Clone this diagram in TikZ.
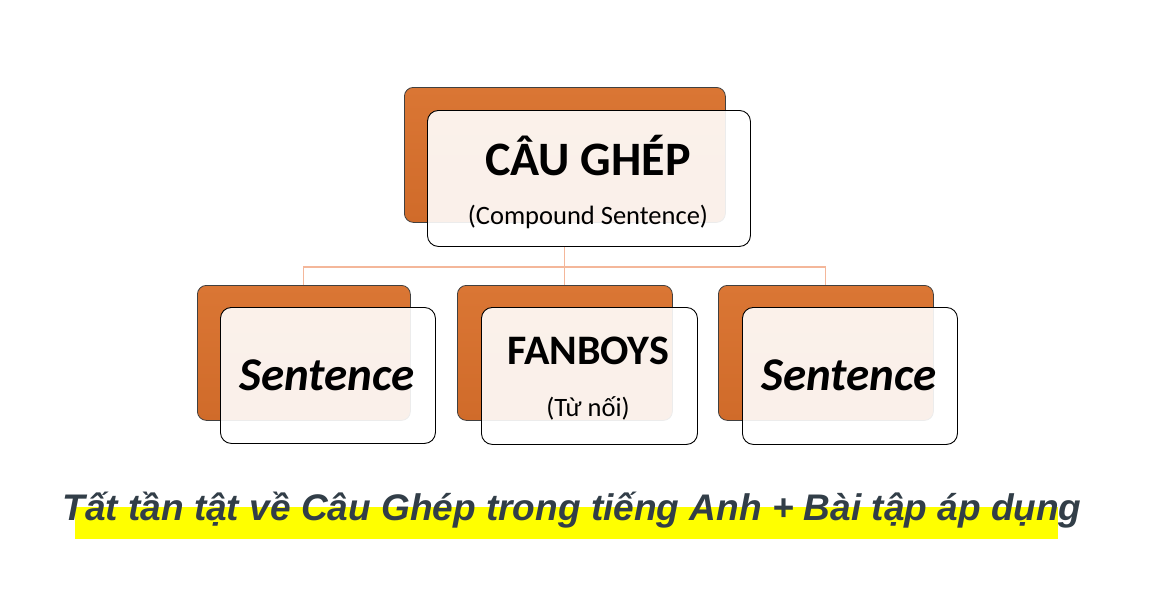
\documentclass[tikz,border=0pt]{standalone}
\usepackage{fontspec}
\setmainfont{Carlito}
\newfontfamily\titlefont{Liberation Sans}
\begin{document}
\begin{tikzpicture}[x=1pt,y=-1pt,
  back/.style={draw=black!75, line width=0.8pt, rounded corners=9pt,
    top color=orange1, bottom color=orange2, inner sep=0pt, anchor=north west},
  front/.style={draw=black, line width=0.9pt, rounded corners=11pt,
    fill=white, fill opacity=0.9, text opacity=1, inner sep=0pt, anchor=north west},
  conn/.style={draw=conncol, line width=1.1pt},
  lbl/.style={text=black, inner sep=0pt}
]
\definecolor{orange1}{HTML}{DA7634}
\definecolor{orange2}{HTML}{D06B2A}
\definecolor{conncol}{HTML}{F4B79A}
\definecolor{titlecol}{HTML}{323E48}
\definecolor{hl}{HTML}{FFFF00}
\useasboundingbox (0,0) rectangle (1152,605);
\coordinate (hy) at (0,267);
% back boxes
\node[back, minimum width=321pt, minimum height=135pt] (topo) at (404,87) {};
\node[back, minimum width=213pt, minimum height=135pt] (lefto) at (197,285) {};
\node[back, minimum width=215pt, minimum height=135pt] (mido) at (457,285) {};
\node[back, minimum width=215pt, minimum height=135pt] (righto) at (718,285) {};
% front boxes
\node[front, minimum width=323pt, minimum height=136pt] (topf) at (427,110) {};
\node[front, minimum width=215pt, minimum height=136pt] (leftf) at (220,307) {};
\node[front, minimum width=216pt, minimum height=137pt] (midf) at (481,307) {};
\node[front, minimum width=215pt, minimum height=137pt] (rightf) at (742,307) {};
% connectors
\coordinate (cstart) at (topf.south -| topo.south);
\draw[conn] (cstart) -- (mido.north -| cstart);
\draw[conn] (lefto.north) -- (lefto.north |- hy) -- (righto.north |- hy) -- (righto.north);
% labels
\node[lbl, font=\fontsize{48}{48}\selectfont\bfseries] (t1) at (588,156) {CÂU GHÉP};
\node[lbl, font=\fontsize{26.5}{26.5}\selectfont] (t2) at (588,217) {(Compound Sentence)};
\node[lbl, font=\fontsize{47}{47}\selectfont\bfseries\itshape] (t3) at (327,375) {Sentence};
\node[lbl, font=\fontsize{42}{42}\selectfont\bfseries] (t4) at (588,351) {FANBOYS};
\node[lbl, font=\fontsize{26.5}{26.5}\selectfont] (t5) at (588,408) {(Từ nối)};
\node[lbl, font=\fontsize{47}{47}\selectfont\bfseries\itshape] (t6) at (849,375) {Sentence};
% title
\fill[hl] (75,507) rectangle (1058,539);
\node[inner sep=0pt, anchor=base, text=titlecol, font=\titlefont\bfseries\itshape] (title) at (572,520) {\resizebox{1019pt}{!}{Tất tần tật về Câu Ghép trong tiếng Anh + Bài tập áp dụng}};
\end{tikzpicture}
\end{document}
